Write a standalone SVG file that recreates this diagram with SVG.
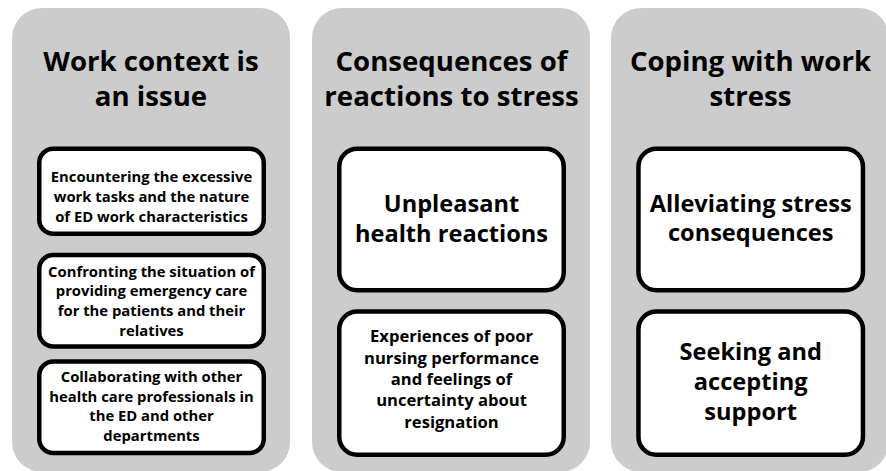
<svg xmlns="http://www.w3.org/2000/svg" width="886" height="471" viewBox="0 0 886 471">
  <style>
    .panel { fill: #cccccc; stroke: none; }
    .box { fill: #ffffff; stroke: #000000; stroke-width: 4.5; }
    text { font-family: "Open Sans", Lato, "Liberation Sans", sans-serif; font-weight: bold; fill: #000000; text-anchor: middle; }
    .title { font-size: 27.6px; }
    .big { font-size: 23.6px; }
    .small { font-size: 14.8px; }
    .mid { font-size: 16.6px; }
  </style>
  <rect width="886" height="471" fill="#ffffff"/>

  <!-- Column 1 -->
  <g id="work-context">
    <rect class="panel" x="12" y="8" width="278" height="464" rx="30"/>
    <text class="title" x="151" y="71">Work context is</text>
    <text class="title" x="151" y="106">an issue</text>
  </g>
  <g id="excessive-tasks">
    <rect class="box" x="39.25" y="148.75" width="224.5" height="85" rx="14"/>
    <text class="small" x="151.5" y="181.7">Encountering the excessive</text>
    <text class="small" x="151.5" y="201.7">work tasks and the nature</text>
    <text class="small" x="151.5" y="221.7">of ED work characteristics</text>
  </g>
  <g id="emergency-care">
    <rect class="box" x="39.25" y="255" width="224.5" height="91.5" rx="14"/>
    <text class="small" x="151.5" y="276.7">Confronting the situation of</text>
    <text class="small" x="151.5" y="296.4">providing emergency care</text>
    <text class="small" x="151.5" y="316">for the patients and their</text>
    <text class="small" x="151.5" y="335.5">relatives</text>
  </g>
  <g id="collaborating">
    <rect class="box" x="39.25" y="361.5" width="224.5" height="91.5" rx="14"/>
    <text class="small" x="151.5" y="382">Collaborating with other</text>
    <text class="small" x="151.5" y="401.7">health care professionals in</text>
    <text class="small" x="151.5" y="421.2">the ED and other</text>
    <text class="small" x="151.5" y="440.5">departments</text>
  </g>

  <!-- Column 2 -->
  <g id="consequences">
    <rect class="panel" x="312" y="8" width="278" height="464" rx="30"/>
    <text class="title" x="451.5" y="71">Consequences of</text>
    <text class="title" x="451.5" y="106">reactions to stress</text>
  </g>
  <g id="health-reactions">
    <rect class="box" x="339.25" y="148.75" width="224.5" height="141.5" rx="18"/>
    <text class="big" x="451.5" y="212">Unpleasant</text>
    <text class="big" x="451.5" y="242">health reactions</text>
  </g>
  <g id="poor-performance">
    <rect class="box" x="339.25" y="311.5" width="224.5" height="143.3" rx="18"/>
    <text class="mid" x="451.5" y="342.4">Experiences of poor</text>
    <text class="mid" x="451.5" y="363.7">nursing performance</text>
    <text class="mid" x="451.5" y="385">and feelings of</text>
    <text class="mid" x="451.5" y="406.3">uncertainty about</text>
    <text class="mid" x="451.5" y="427.6">resignation</text>
  </g>

  <!-- Column 3 -->
  <g id="coping">
    <rect class="panel" x="611" y="8" width="278" height="464" rx="30"/>
    <text class="title" x="750.5" y="71">Coping with work</text>
    <text class="title" x="750.5" y="106">stress</text>
  </g>
  <g id="alleviating">
    <rect class="box" x="638.45" y="148.75" width="224.5" height="141.5" rx="18"/>
    <text class="big" x="750.7" y="212">Alleviating stress</text>
    <text class="big" x="750.7" y="241">consequences</text>
  </g>
  <g id="support">
    <rect class="box" x="638.45" y="311.5" width="224.5" height="143.3" rx="18"/>
    <text class="big" x="750.7" y="359.5">Seeking and</text>
    <text class="big" x="750.7" y="390">accepting</text>
    <text class="big" x="750.7" y="420">support</text>
  </g>

  <!-- No connectors are drawn between the columns -->
  <g id="connectors"/>
</svg>
